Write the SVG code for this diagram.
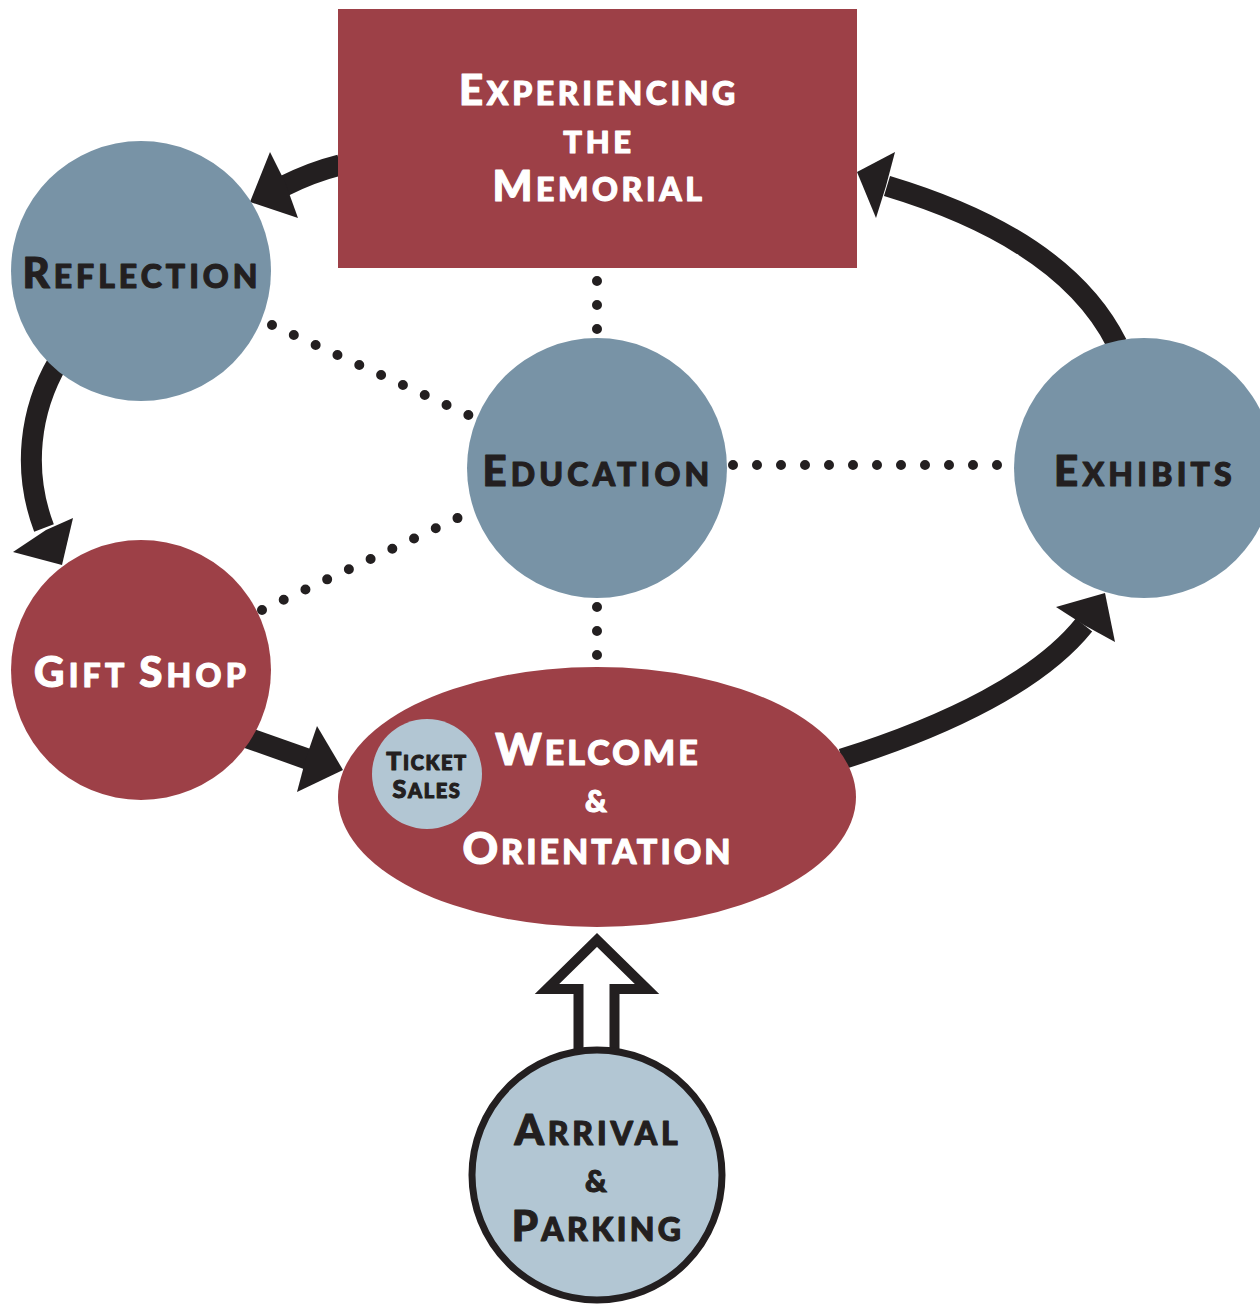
<svg xmlns="http://www.w3.org/2000/svg" width="1260" height="1304" viewBox="0 0 1260 1304">
<defs>
<style>
.red{fill:#9d4047}
.blue{fill:#7893a6}
.light{fill:#b2c6d3}
.t{font-family:Lato,"Open Sans","Liberation Sans",sans-serif;font-weight:900;text-anchor:middle;stroke-width:1.1;stroke-linejoin:round}
.w{fill:#ffffff;stroke:#ffffff}
.d{fill:#231f20;stroke:#231f20}
.flow{fill:none;stroke:#231f20;stroke-width:21}
.head{fill:#231f20}
.dot{fill:none;stroke:#231f20;stroke-width:10;stroke-linecap:round;stroke-dasharray:0 24}
</style>
</defs>
<rect width="1260" height="1304" fill="#ffffff"/>

<g id="connectors">
<path class="flow" d="M340 165 Q312 172 284 186"/>
<polygon class="head" points="250,202 270,152 285,182 298,218"/>
<path class="flow" d="M1117 344 C1080 270 1000 220 887 186"/>
<polygon class="head" points="857,172 895,152 886,186 876,218"/>
<path class="flow" d="M58 362 C30 410 22 470 44 528"/>
<polygon class="head" points="62,565 13,552 46,530 73,518"/>
<path class="flow" d="M248 738 L310 760"/>
<polygon class="head" points="343,770 317,726 306,758 297,792"/>
<path class="flow" d="M842 759 C950 725 1040 680 1084 625"/>
<polygon class="head" points="1105,593 1056,607 1084,625 1115,642"/>
<line class="dot" x1="597" y1="281" x2="597" y2="330"/>
<line class="dot" x1="597" y1="607" x2="597" y2="660"/>
<line class="dot" x1="272" y1="325" x2="475" y2="418"/>
<line class="dot" x1="262" y1="610" x2="462" y2="516"/>
<line class="dot" x1="733" y1="465" x2="1005" y2="465"/>
</g>

<g id="experiencing">
<rect class="red" x="338" y="9" width="519" height="259"/>
<text class="t w" x="599" y="105" letter-spacing="3.6"><tspan font-size="42">E</tspan><tspan font-size="32">XPERIENCING</tspan></text>
<text class="t w" x="599" y="153" font-size="31" letter-spacing="3.6">THE</text>
<text class="t w" x="599" y="201" letter-spacing="3.6"><tspan font-size="42">M</tspan><tspan font-size="32">EMORIAL</tspan></text>
</g>

<g id="reflection">
<circle class="blue" cx="141" cy="271" r="130"/>
<text class="t d" x="142" y="288" letter-spacing="4"><tspan font-size="42">R</tspan><tspan font-size="32">EFLECTION</tspan></text>
</g>

<g id="education">
<circle class="blue" cx="597" cy="468" r="130"/>
<text class="t d" x="598" y="486" letter-spacing="4.2"><tspan font-size="42">E</tspan><tspan font-size="32">DUCATION</tspan></text>
</g>

<g id="exhibits">
<circle class="blue" cx="1144" cy="468" r="130"/>
<text class="t d" x="1145" y="486" letter-spacing="4.2"><tspan font-size="42">E</tspan><tspan font-size="32">XHIBITS</tspan></text>
</g>

<g id="giftshop">
<circle class="red" cx="141" cy="670" r="130"/>
<text class="t w" x="142" y="687" letter-spacing="4.2"><tspan font-size="42">G</tspan><tspan font-size="32">IFT </tspan><tspan font-size="42">S</tspan><tspan font-size="32">HOP</tspan></text>
</g>

<g id="welcome">
<ellipse class="red" cx="597" cy="797" rx="259" ry="130"/>
<text class="t w" x="598" y="765" letter-spacing="3"><tspan font-size="44">W</tspan><tspan font-size="34">ELCOME</tspan></text>
<text class="t w" x="596" y="812" font-size="30">&amp;</text>
<text class="t w" x="598" y="864" letter-spacing="3"><tspan font-size="44">O</tspan><tspan font-size="34">RIENTATION</tspan></text>
</g>

<g id="ticket">
<circle class="light" cx="427" cy="774" r="55"/>
<text class="t d" x="427" y="770" letter-spacing="1.6"><tspan font-size="25">T</tspan><tspan font-size="20">ICKET</tspan></text>
<text class="t d" x="427" y="798" letter-spacing="1.6"><tspan font-size="25">S</tspan><tspan font-size="20">ALES</tspan></text>
</g>

<g id="entry-arrow">
<polygon points="578.5,1055 578.5,989 547,989 597,940 647,989 614.5,989 614.5,1055" fill="#ffffff" stroke="#231f20" stroke-width="10" stroke-linejoin="miter"/>
</g>

<g id="arrival">
<circle class="light" cx="597" cy="1175" r="125" stroke="#231f20" stroke-width="7"/>
<text class="t d" x="598" y="1145" letter-spacing="3.8"><tspan font-size="42">A</tspan><tspan font-size="32">RRIVAL</tspan></text>
<text class="t d" x="596" y="1192" font-size="30">&amp;</text>
<text class="t d" x="598" y="1241" letter-spacing="3.3"><tspan font-size="42">P</tspan><tspan font-size="32">ARKING</tspan></text>
</g>
</svg>
